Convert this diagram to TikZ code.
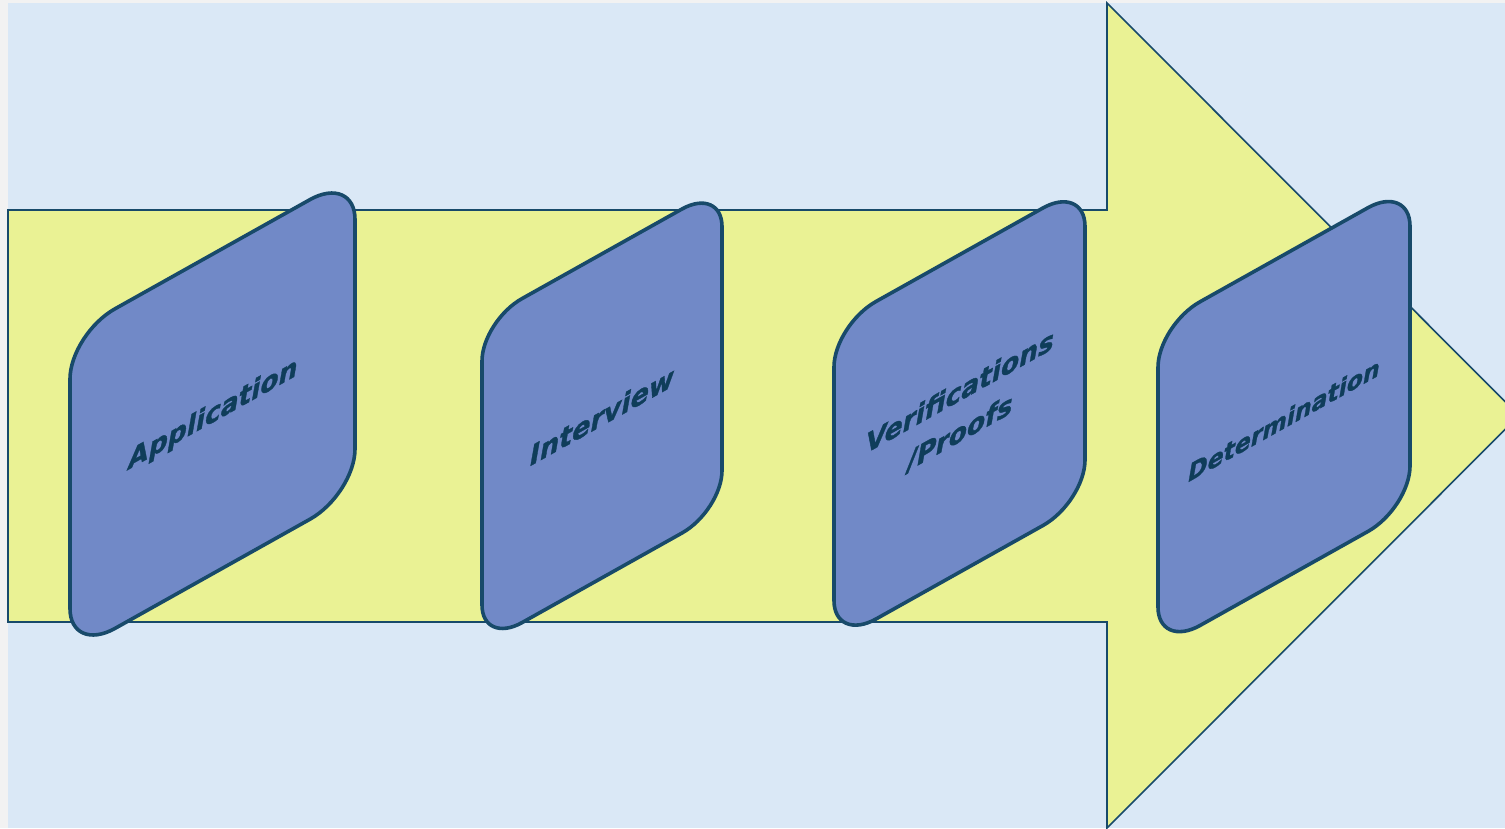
\documentclass[tikz,border=0pt]{standalone}
\usepackage{fontspec}
\newfontfamily\lblfont{DejaVu Sans}[BoldItalicFeatures={FakeBold=1.3}]
\definecolor{bgblue}{HTML}{DAE8F6}
\definecolor{marg}{HTML}{F2F2F2}
\definecolor{arrowfill}{HTML}{EAF294}
\definecolor{cardfill}{HTML}{7189C7}
\definecolor{carddraw}{HTML}{184A6A}
\definecolor{lbltext}{HTML}{0F3D5A}
\tikzset{
  bigarrow/.style={fill=arrowfill, draw=carddraw, line width=1.6pt, line join=miter},
  cardstyle/.style={fill=cardfill, draw=carddraw, line width=3.6pt},
  cardtext/.style={text=lbltext, align=center, inner sep=0pt}
}
\newcommand\slantcard[9]{%
  \begin{scope}[shift={(#2,#3)}, yslant=0.56]
    \pgfmathsetmacro\cardW{#4}\pgfmathsetmacro\cardH{#5}%
    \pgfmathsetmacro\cardR{#6}\pgfmathsetmacro\cardK{#6*0.4477}%
    \draw[cardstyle] (0,\cardR) -- (0,\cardH-\cardR)
      .. controls (0,\cardH-\cardK) and (\cardK,\cardH) .. (\cardR,\cardH)
      -- (\cardW-\cardR,\cardH)
      .. controls (\cardW-\cardK,\cardH) and (\cardW,\cardH-\cardK) .. (\cardW,\cardH-\cardR)
      -- (\cardW,\cardR)
      .. controls (\cardW,\cardK) and (\cardW-\cardK,0) .. (\cardW-\cardR,0)
      -- (\cardR,0)
      .. controls (\cardK,0) and (0,\cardK) .. cycle;
    \node[cardtext, transform shape,
      font={\lblfont\bfseries\itshape\fontsize{#8}{41}\selectfont}] (#1) at (#7) {#9};
  \end{scope}}
\begin{document}
\begin{tikzpicture}[x=1pt, y=-1pt]
  \useasboundingbox (0,0) rectangle (1505,828);
  \clip (0,0) rectangle (1505,828);
  \fill[marg] (0,0) rectangle (1505,828);
  \fill[bgblue] (8,3) rectangle (1505,828);
  % big arrow
  \coordinate (a1) at (8,210);
  \coordinate (a2) at (1107,210);
  \coordinate (a3) at (1107,3);
  \coordinate (tip) at (1519,415.5);
  \coordinate (a5) at (1107,828);
  \coordinate (a6) at (1107,622);
  \coordinate (a7) at (8,622);
  \draw[bigarrow] (a1) -- (a2) -- (a3) -- (tip) -- (a5) -- (a6) -- (a7) -- cycle;
  % cards
  \slantcard{app}{70}{334}{285}{319.6}{45}{143,161}{26.5}{Application}
  \slantcard{int}{482}{321}{240}{324}{40}{120,162}{27}{Interview}
  \slantcard{ver}{834}{325}{251}{317.5}{42}{126,158}{26.5}{Verifications\\/Proofs}
  \slantcard{det}{1158}{325.3}{252}{323.7}{42}{126,165}{23.5}{Determination}
\end{tikzpicture}
\end{document}
